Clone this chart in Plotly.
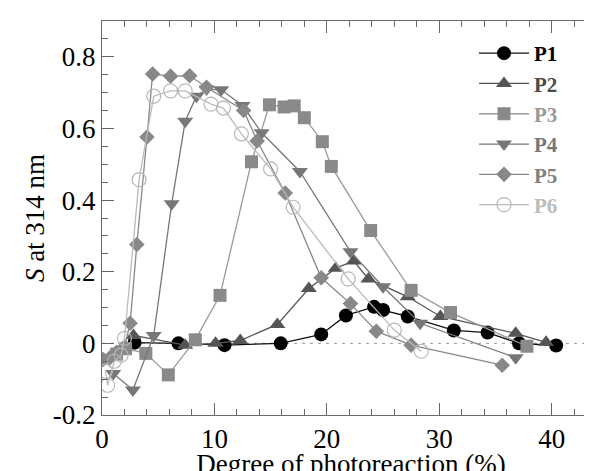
import plotly.graph_objects as go

# ---- data ----
p1_x = [2.9, 6.8, 10.9, 15.9, 19.5, 21.7, 24.2, 25.0, 27.2, 31.3, 34.3, 37.1, 40.4]
p1_y = [0.002, 0.0, -0.005, 0.0, 0.025, 0.078, 0.102, 0.093, 0.075, 0.036, 0.03, 0.0, -0.006]

p2_x = [2.8, 7.4, 10.1, 12.3, 15.6, 18.4, 20.8, 22.4, 23.7, 27.2, 30.1, 36.8, 39.5]
p2_y = [0.022, -0.005, 0.0, 0.008, 0.053, 0.153, 0.21, 0.23, 0.18, 0.13, 0.075, 0.028, 0.003]

p3_x = [1.3, 2.1, 3.9, 5.9, 8.3, 10.5, 13.3, 14.9, 16.2, 17.1, 18.0, 19.6, 20.4, 23.9, 27.5, 31.0, 37.8]
p3_y = [-0.03, -0.015, -0.028, -0.088, 0.01, 0.134, 0.507, 0.666, 0.66, 0.663, 0.63, 0.563, 0.494, 0.315, 0.148, 0.086, -0.008]

p4_x = [1.0, 2.75, 4.6, 6.2, 7.4, 8.4, 9.3, 10.6, 12.5, 14.2, 17.6, 22.1, 25.0, 28.3, 36.8]
p4_y = [-0.084, -0.13, 0.022, 0.39, 0.62, 0.69, 0.71, 0.708, 0.664, 0.588, 0.48, 0.256, 0.158, 0.056, -0.04]

p5_x = [0.1, 0.7, 1.3, 2.0, 2.5, 3.1, 4.0, 4.5, 6.1, 7.8, 9.3, 12.6, 13.8, 16.3, 19.5, 22.1, 24.4, 27.5, 35.6]
p5_y = [-0.045, -0.04, -0.025, -0.01, 0.056, 0.276, 0.576, 0.752, 0.746, 0.747, 0.715, 0.65, 0.565, 0.42, 0.183, 0.111, 0.034, -0.005, -0.061]

p6_x = [0.3, 0.5, 1.1, 1.7, 2.0, 3.3, 4.6, 6.1, 7.4, 9.7, 10.8, 12.4, 15.0, 17.0, 21.9, 26.0, 28.4]
p6_y = [-0.078, -0.117, -0.05, -0.033, 0.014, 0.457, 0.69, 0.705, 0.705, 0.668, 0.657, 0.585, 0.487, 0.38, 0.18, 0.037, -0.022]

names = ["P1", "P2", "P3", "P4", "P5", "P6"]
x_tick_vals = [0, 10, 20, 30, 40]
x_tick_text = ["0", "10", "20", "30", "40"]
y_tick_vals = [-0.2, 0, 0.2, 0.4, 0.6, 0.8]
y_tick_text = ["-0.2", "0", "0.2", "0.4", "0.6", "0.8"]

xs = [p1_x, p2_x, p3_x, p4_x, p5_x, p6_x]
ys = [p1_y, p2_y, p3_y, p4_y, p5_y, p6_y]

# ---- styles ----
line_colors = ["#111111", "#555555", "#999999", "#777777", "#888888", "#bbbbbb"]
marker_colors = ["#000000", "#555555", "#8a8a8a", "#777777", "#888888", "#b8b8b8"]
symbols = ["circle", "triangle-up", "square", "triangle-down", "diamond", "circle-open"]
sizes = [14, 14, 13, 14, 12, 14]
text_colors = ["#000000", "#4a4a4a", "#999999", "#777777", "#808080", "#bbbbbb"]

SERIF = "Liberation Serif"

fig = go.Figure()
for i in range(6):
    mk = dict(symbol=symbols[i], size=sizes[i], color=marker_colors[i])
    mk["line"] = dict(width=1.2 if i == 5 else 0)
    fig.add_trace(go.Scatter(
        x=xs[i], y=ys[i], mode="lines+markers",
        name=f'<span style="color:{text_colors[i]}"><b>{names[i]}</b></span>',
        line=dict(color=line_colors[i], width=1.3),
        marker=mk,
    ))

# dotted reference line at S = 0
fig.add_shape(type="line", xref="paper", x0=0, x1=1, yref="y", y0=0, y1=0,
              line=dict(color="#aaaaaa", width=1.2, dash="3px,5px"), layer="below")

fig.update_xaxes(
    showline=True, linecolor="#6a6a6a", linewidth=1, mirror="ticks",
    ticks="inside", tickcolor="#666666", ticklen=12, tickwidth=1,
    showgrid=False, zeroline=False,
    tickfont=dict(family=SERIF, size=27),
    range=[0, 44.3],
    tickvals=x_tick_vals, ticktext=x_tick_text,
    minor=dict(ticks="inside", ticklen=6, tickcolor="#666666", dtick=2, tick0=0, showgrid=False),
    title=dict(text="Degree of photoreaction (%)", font=dict(family=SERIF, size=27), standoff=3),
)
fig.update_yaxes(
    showline=True, linecolor="#6a6a6a", linewidth=1, mirror="ticks",
    ticks="inside", tickcolor="#666666", ticklen=12, tickwidth=1,
    showgrid=False, zeroline=False,
    tickfont=dict(family=SERIF, size=27),
    range=[-0.2, 0.9],
    tickvals=y_tick_vals, ticktext=y_tick_text,
    minor=dict(ticks="inside", ticklen=6, tickcolor="#666666", dtick=0.05, tick0=0, showgrid=False),
    title=dict(text="<i>S</i> at 314 nm", font=dict(family=SERIF, size=27), standoff=0),
)

fig.update_layout(
    width=592, height=471,
    margin=dict(l=94, r=0, t=13, b=64),
    paper_bgcolor="white", plot_bgcolor="white",
    font=dict(family=SERIF, color="#000000"),
    showlegend=True,
    legend=dict(x=(466 - 94) / 498, y=(407 - 25) / 394, xref="paper", yref="paper",
                xanchor="left", yanchor="top", bgcolor="rgba(0,0,0,0)",
                font=dict(family=SERIF, size=21), itemwidth=50, tracegroupgap=0),
)

fig.write_html("out.html")
